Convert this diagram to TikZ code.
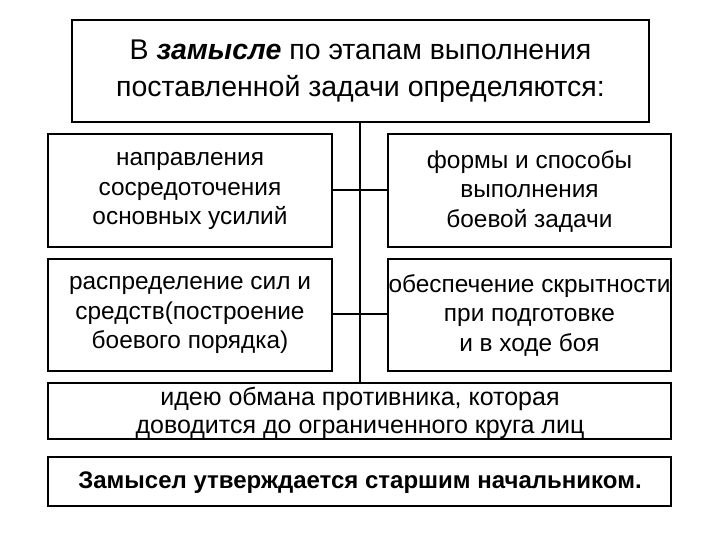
\documentclass[tikz,border=0pt]{standalone}
\usepackage{fontspec}
\setmainfont{Liberation Sans}
\begin{document}
\begin{tikzpicture}[x=1pt,y=-1pt,
  bx/.style={draw=black,line width=2pt,fill=white},
  txt/.style={align=center,font=\fontsize{24.4}{29.5}\selectfont,inner sep=0pt},
  ln/.style={draw=black,line width=2pt}]
\useasboundingbox (0,0) rectangle (720,540);
\fill[white] (0,0) rectangle (720,540);
\draw[ln] (360,122) -- (360,383);
\draw[bx] (72,20) rectangle (649,122);
\node[txt,font=\fontsize{28.5}{37}\selectfont] (top) at (360.5,71) {В \textit{\textbf{замысле}} по этапам выполнения\\поставленной задачи определяются:};
\draw[bx] (48,134) rectangle (332,247);
\node[txt] (a) at (190,191) {направления\\сосредоточения\\основных усилий};
\draw[bx] (388,134) rectangle (671,247);
\node[txt] (b) at (529.5,191) {формы и способы\\выполнения\\боевой задачи};
\draw[bx] (48,259) rectangle (332,371);
\node[txt] (c) at (190,315) {распределение сил и\\средств(построение\\боевого порядка)};
\draw[bx] (388,259) rectangle (671,371);
\node[txt] (d) at (529.5,315) {обеспечение скрытности\\при подготовке\\и в ходе боя};
\draw[ln] (332,190) -- (388,190);
\draw[ln] (332,314) -- (388,314);
\draw[bx] (48,383) rectangle (671,439);
\node[txt,font=\fontsize{25}{28}\selectfont] (e) at (360,413) {идею обмана противника, которая\\доводится до ограниченного круга лиц};
\draw[bx] (48,457) rectangle (671,506);
\node[txt,font=\bfseries\fontsize{24}{28}\selectfont] (f) at (360,483) {Замысел утверждается старшим начальником.};
\end{tikzpicture}
\end{document}
